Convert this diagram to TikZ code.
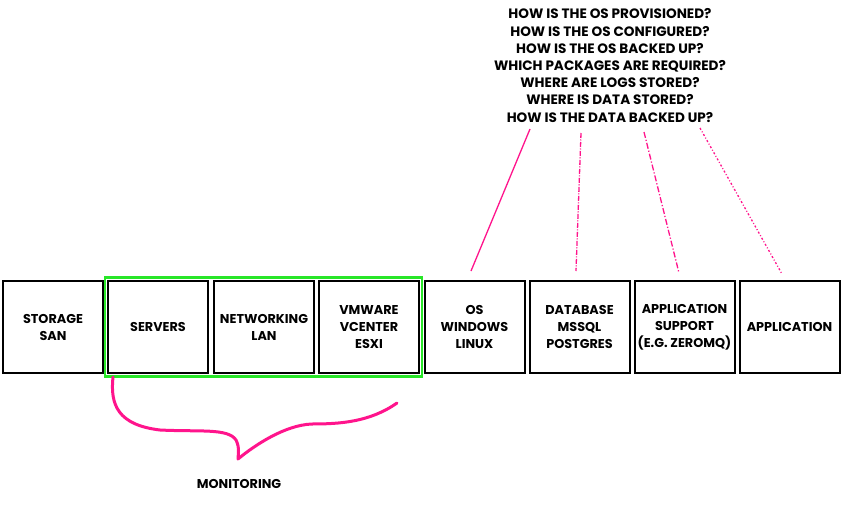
\documentclass[tikz,border=0pt]{standalone}
\usepackage{fontspec}
\setmainfont{Poppins}
\definecolor{hotpink}{RGB}{255,20,140}
\definecolor{boxgreen}{RGB}{40,230,40}
\tikzset{
  layer/.style={draw=black,line width=2pt,minimum width=100pt,minimum height=92pt,inner sep=0pt,align=center,font=\fontsize{12.8}{17}\selectfont\bfseries},
  question/.style={hotpink,line width=1.3pt},
}
\begin{document}
\begin{tikzpicture}[x=1pt,y=-1pt]
\useasboundingbox[fill=white] (0,0) rectangle (844,514);
% the stack
\node[layer] (storage) at (53,327) {STORAGE\\SAN};
\node[layer] (servers) at (158,327) {SERVERS};
\node[layer] (network) at (264,327) {NETWORKING\\LAN};
\node[layer] (vmware) at (369,327) {VMWARE\\VCENTER\\ESXI};
\node[layer] (os) at (474.5,327) {OS\\WINDOWS\\LINUX};
\node[layer] (db) at (579.5,327) {DATABASE\\MSSQL\\POSTGRES};
\node[layer] (appsup) at (684.5,327) {APPLICATION\\SUPPORT\\(E.G. ZEROMQ)};
\node[layer] (app) at (789.5,327) {APPLICATION};
% infrastructure group
\draw[boxgreen,line width=2.2pt] (105,277.5) rectangle (422,376.5);
% questions
\node[align=center,font=\fontsize{13.6}{17.2}\selectfont\bfseries] (questions) at (610,65.5) {HOW IS THE OS PROVISIONED?\\HOW IS THE OS CONFIGURED?\\HOW IS THE OS BACKED UP?\\WHICH PACKAGES ARE REQUIRED?\\WHERE ARE LOGS STORED?\\WHERE IS DATA STORED?\\HOW IS THE DATA BACKED UP?};
\coordinate (qos) at (530,129);
\coordinate (qdb) at (581,133);
\coordinate (qsup) at (644,132);
\coordinate (qapp) at (700,128);
\coordinate (tos) at (471,271);
\coordinate (tdb) at (576,271);
\coordinate (tsup) at (679,273);
\coordinate (tapp) at (782,274);
\draw[question] (qos) -- (tos);
\draw[question,dash pattern=on 5pt off 1.5pt on 1pt off 1.5pt] (qdb) -- (tdb);
\draw[question,dash pattern=on 6pt off 2pt on 1.2pt off 2pt] (qsup) -- (tsup);
\draw[question,dash pattern=on 2pt off 2pt on 1pt off 2pt] (qapp) -- (tapp);
% monitoring brace
\node[font=\fontsize{12.8}{14}\selectfont\bfseries] (monitoring) at (239,484) {MONITORING};
\draw[hotpink,line width=3pt,line cap=round,line join=round] (113,377) .. controls (110,405) and (118,425) .. (160,430) .. controls (200,432) and (228,428) .. (236,440) .. controls (240,448) and (238,455) .. (238,459) .. controls (255,445) and (285,425) .. (312,424) .. controls (340,424) and (370,422) .. (397,403);
\end{tikzpicture}
\end{document}
